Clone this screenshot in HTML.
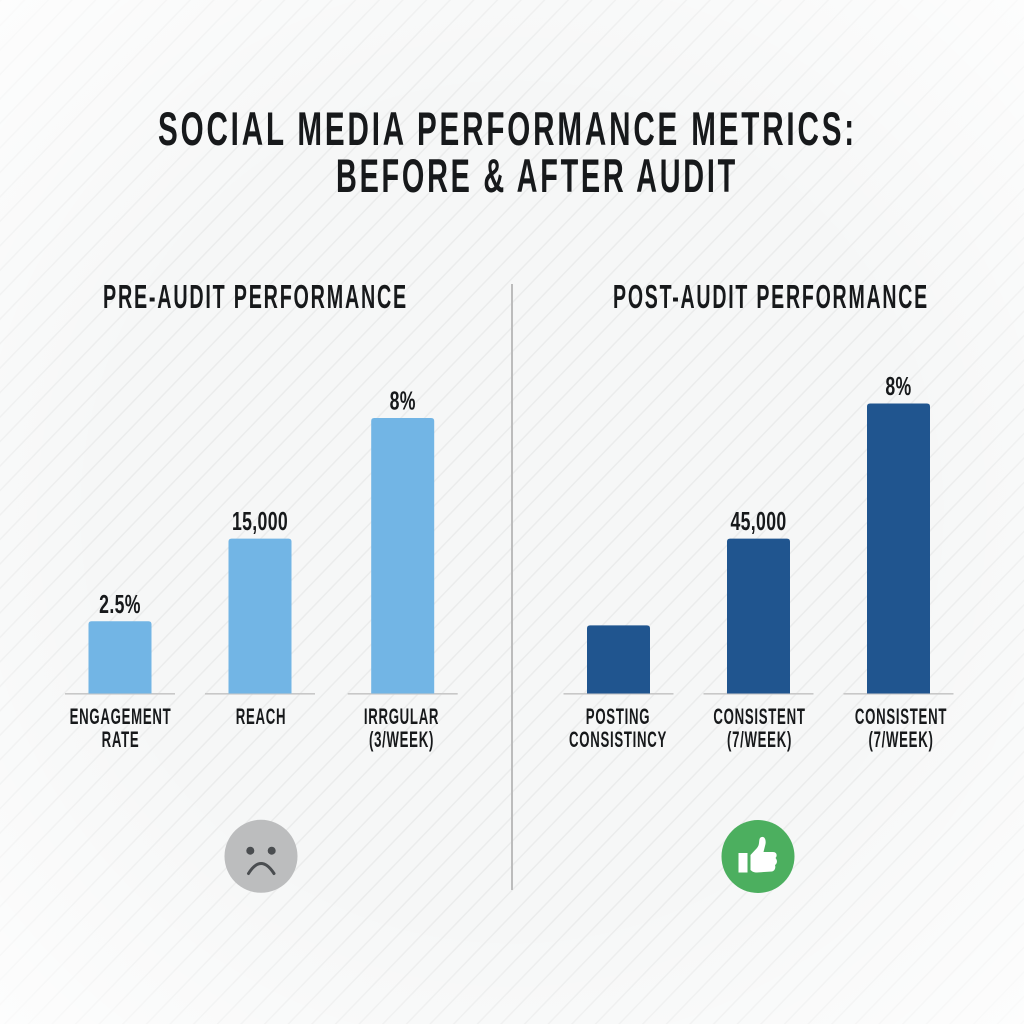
<!DOCTYPE html>
<html lang="en">
<head>
<meta charset="utf-8">
<title>Social Media Performance Metrics</title>
<style>
html,body{margin:0;padding:0;background:#f6f7f7;}
svg{display:block;}
text{font-family:"Liberation Sans",Arial,sans-serif;font-weight:700;fill:#17191b;}
</style>
</head>
<body>
<svg id="chart" xmlns="http://www.w3.org/2000/svg" width="1024" height="1024" viewBox="0 0 1024 1024">
  <defs>
    <pattern id="stripes" width="17" height="17" patternUnits="userSpaceOnUse" patternTransform="rotate(-46)">
      <rect width="17" height="1.5" fill="#ebecec"/>
    </pattern>
    <radialGradient id="vignette" cx="50%" cy="50%" r="72%">
      <stop offset="0.55" stop-color="#ffffff" stop-opacity="0"/>
      <stop offset="1" stop-color="#ffffff" stop-opacity="0.8"/>
    </radialGradient>
  </defs>
  <rect width="1024" height="1024" fill="#f6f7f7"/>
  <rect width="1024" height="1024" fill="url(#stripes)"/>
  <rect width="1024" height="1024" fill="url(#vignette)"/>

  <text x="158" y="145" font-size="47" letter-spacing="4.5" textLength="699" lengthAdjust="spacingAndGlyphs">SOCIAL MEDIA PERFORMANCE METRICS:</text>
  <text x="336" y="192" font-size="47" letter-spacing="4.5" textLength="402" lengthAdjust="spacingAndGlyphs">BEFORE &amp; AFTER AUDIT</text>

  <text x="103" y="308" font-size="33" letter-spacing="3" textLength="305" lengthAdjust="spacingAndGlyphs">PRE-AUDIT PERFORMANCE</text>
  <text x="613" y="308" font-size="33" letter-spacing="3" textLength="316" lengthAdjust="spacingAndGlyphs">POST-AUDIT PERFORMANCE</text>

  <rect x="511" y="284" width="2" height="606" fill="#bcbcbc"/>

  <g id="marks"></g>

  <g>
    <circle cx="261" cy="856.3" r="36.5" fill="#bcbdbe"/>
    <circle cx="250.3" cy="850.7" r="4" fill="#4a4d50"/>
    <circle cx="271.7" cy="850.7" r="4" fill="#4a4d50"/>
    <path d="M248.5 873.5 Q261 853.5 274 873.5" fill="none" stroke="#4a4d50" stroke-width="3" stroke-linecap="round"/>
  </g>
  <g>
    <circle cx="758" cy="856.5" r="36.5" fill="#4caf5f"/>
    <rect x="738.5" y="853" width="9" height="19.5" fill="#ffffff"/>
    <path d="M750.5 855 L757 848 C760 844.5 758.5 840.5 760 838 C763 835 766.5 838 765.5 844 L763.5 852 L773 852 C777 852 777.5 856 775.5 858 C777.5 860 777.5 863.5 775 865 C776 868 774.5 871 772 871.5 L757 872.5 C754 872.5 752 871.5 750.5 870 Z" fill="#ffffff"/>
  </g>
</svg>
<script>
var preCategories = [["ENGAGEMENT", "RATE"], ["REACH"], ["IRRGULAR", "(3/WEEK)"]];
var postCategories = [["POSTING", "CONSISTINCY"], ["CONSISTENT", "(7/WEEK)"], ["CONSISTENT", "(7/WEEK)"]];
var preValues = [24.9, 53.4, 95];
var postValues = [23.5, 53.4, 100];
var preValueLabels = ["2.5%", "15,000", "8%"];
var postValueLabels = ["", "45,000", "8%"];

var NS = "http://www.w3.org/2000/svg";
var marks = document.getElementById("marks");
var BASELINE = 693.5;
var PIXELS_PER_UNIT = 2.9;
var BAR_WIDTH = 63;
var AXIS_HALF = 55;

function yScale(v) { return BASELINE - v * PIXELS_PER_UNIT; }
function xPre(i) { return 120 + 140 * i + 1.35 * i * (i - 1); }
function xPost(i) { return 618.5 + i * 140; }
function labelPre(i) { return 120.5 + i * 140.5; }
function labelPost(i) { return 618 + i * 141.5; }

function addText(parent, str, cx, baseline, size, spacing, widthScale) {
  var t = document.createElementNS(NS, "text");
  t.setAttribute("text-anchor", "middle");
  t.setAttribute("font-size", size);
  t.setAttribute("letter-spacing", spacing);
  t.setAttribute("transform", "translate(" + cx + " " + baseline + ") scale(" + widthScale + " 1)");
  t.textContent = str;
  parent.appendChild(t);
  return t;
}

function drawPanel(panel, xScale, labelScale, categories, values, valueLabels, color) {
  values.forEach(function (v, i) {
    var cx = xScale(i);
    var top = yScale(v);

    var axis = document.createElementNS(NS, "rect");
    
    
    axis.setAttribute("x", cx - AXIS_HALF);
    axis.setAttribute("y", BASELINE - 0.5);
    axis.setAttribute("width", AXIS_HALF * 2);
    axis.setAttribute("height", 1.6);
    axis.setAttribute("fill", "#c8c8c8");
    marks.appendChild(axis);

    var bar = document.createElementNS(NS, "path");
    
    
    var l = cx - BAR_WIDTH / 2, r = cx + BAR_WIDTH / 2, rad = 3;
    bar.setAttribute("d", "M" + l + " " + BASELINE + "V" + (top + rad) + "Q" + l + " " + top + " " + (l + rad) + " " + top +
      "H" + (r - rad) + "Q" + r + " " + top + " " + r + " " + (top + rad) + "V" + BASELINE + "Z");
    bar.setAttribute("fill", color);
    marks.appendChild(bar);

    if (valueLabels[i]) {
      var valueText = addText(marks, valueLabels[i], cx, top - 8.5, 26, 0.5, 0.68);
      
      
    }

    categories[i].forEach(function (line, j) {
      var catText = addText(marks, line, labelScale(i), 724 + j * 23, 22, 1.2, 0.6);
      
      
    });
  });
}

drawPanel("pre-audit", xPre, labelPre, preCategories, preValues, preValueLabels, "#72b5e5");
drawPanel("post-audit", xPost, labelPost, postCategories, postValues, postValueLabels, "#20558f");
</script>
</body>
</html>
